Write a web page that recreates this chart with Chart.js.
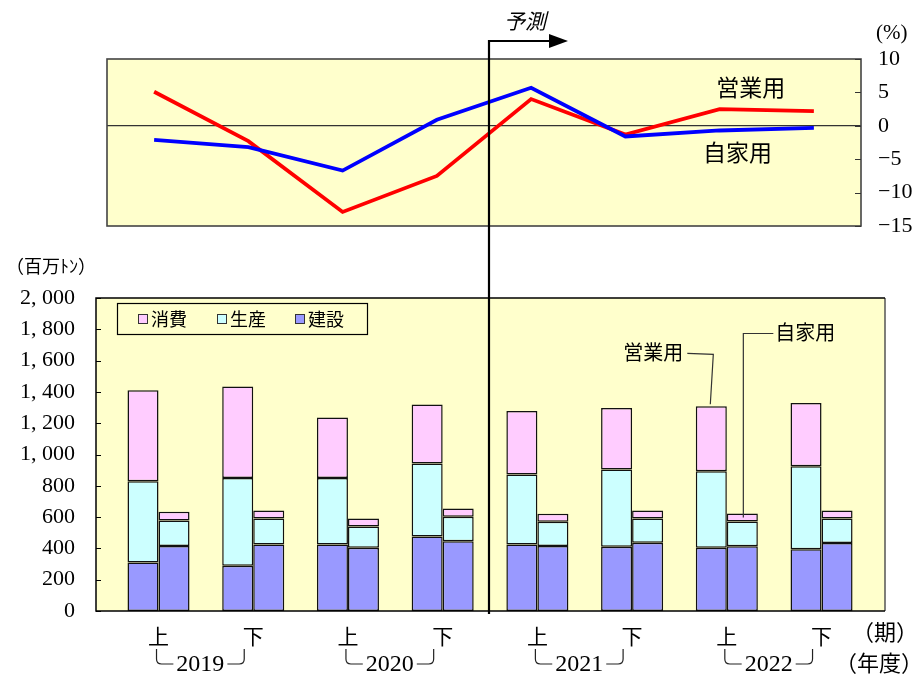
<!DOCTYPE html>
<html>
<head>
<meta charset="utf-8">
<script src="https://cdn.jsdelivr.net/npm/chart.js@4/dist/chart.umd.min.js"></script>
<style>
  html, body { margin: 0; padding: 0; background: #ffffff; }
  #wrap { position: relative; width: 917px; height: 678px; overflow: hidden; }
  #wrap canvas { position: absolute; left: 0; top: 0; }
  #rate { z-index: 1; }
  #vol { z-index: 2; }
</style>
</head>
<body>
<div id="wrap">
  <canvas id="rate" width="917" height="678"></canvas>
  <canvas id="vol" width="917" height="678"></canvas>
</div>
<script>
// 期 (上期・下期) と年度
const periods = ['上', '下', '上', '下', '上', '下', '上', '下'];
const fiscalYears = ['2019', '2020', '2021', '2022'];

// 前年同期比 (%)
const commercialRate = [5.1, -2.3, -12.9, -7.5, 4.0, -1.3, 2.5, 2.2];
const privateRate    = [-2.1, -3.2, -6.7, 0.9, 5.7, -1.6, -0.7, -0.3];

// 輸送量 (百万トン) 営業用
const bizConstruction = [310, 289, 425, 476, 425, 410, 404, 394];
const bizProduction   = [519, 561, 425, 466, 447, 494, 489, 531];
const bizConsumption  = [581, 585, 386, 377, 406, 393, 415, 404];
// 輸送量 (百万トン) 自家用
const ownConstruction = [415, 425, 404, 445, 415, 436, 413, 434];
const ownProduction   = [164, 166, 136, 157, 155, 155, 159, 157];
const ownConsumption  = [55, 51, 51, 53, 51, 51, 51, 51];

// 目盛
const rateTicks = [-15, -10, -5, 0, 5, 10];
const volumeTicks = [0, 200, 400, 600, 800, 1000, 1200, 1400, 1600, 1800, 2000];

// 予測の開始位置 (2020年度下期と2021年度上期の間)
const forecastFrom = 3.5;
// 引出線を付ける期 (2022年度上期)
const calloutIndex = 6;

const SERIF = "'Liberation Serif', 'DejaVu Serif', serif";
const GOTHIC = "'Noto Sans CJK JP', 'Noto Sans', sans-serif";
const PANEL = '#FFFFCC';
const COLORS = { construction: '#9999FF', production: '#CCFFFF', consumption: '#FFCCFF' };

Chart.defaults.font.family = SERIF;
Chart.defaults.color = '#000';

const minus = v => (v < 0 ? '\u2212' + Math.abs(v) : String(v));
const withComma = v => v >= 1000 ? Math.floor(v / 1000) + ', ' + String(v % 1000).padStart(3, '0') : String(v);
const points = arr => arr.map((y, x) => ({ x, y }));

/* ---------- 上段: 前年同期比の折れ線 ---------- */
const ratePanel = {
  id: 'ratePanel',
  beforeDraw(chart) {
    const { ctx, chartArea: a } = chart;
    ctx.save();
    ctx.fillStyle = PANEL;
    ctx.fillRect(a.left, a.top, a.right - a.left, a.bottom - a.top);
    ctx.restore();
  },
  afterDatasetsDraw(chart) {
    const { ctx, chartArea: a, scales: { x, y } } = chart;
    ctx.save();
    // 枠
    ctx.strokeStyle = '#444';
    ctx.lineWidth = 1.6;
    ctx.strokeRect(a.left, a.top, a.right - a.left, a.bottom - a.top);
    // 右軸の内向き目盛
    ctx.lineWidth = 1;
    ctx.strokeStyle = '#333';
    rateTicks.forEach(v => {
      const py = Math.round(y.getPixelForValue(v)) + 0.5;
      ctx.beginPath();
      ctx.moveTo(a.right - 6, py);
      ctx.lineTo(a.right, py);
      ctx.stroke();
    });
    // 系列名
    ctx.fillStyle = '#000';
    ctx.font = '23px ' + GOTHIC;
    ctx.textAlign = 'center';
    ctx.textBaseline = 'middle';
    ctx.fillText('営業用', x.getPixelForValue(6.33), y.getPixelForValue(5.8));
    ctx.fillText('自家用', x.getPixelForValue(6.19), y.getPixelForValue(-3.9));
    // 単位
    ctx.font = '21px ' + SERIF;
    ctx.textAlign = 'left';
    ctx.fillText('(%)', a.right + 15, 33);
    ctx.restore();
  }
};

new Chart(document.getElementById('rate'), {
  type: 'line',
  data: {
    labels: periods,
    datasets: [
      { label: '自家用', data: privateRate, borderColor: '#0000FF', borderWidth: 3.8, pointRadius: 0, tension: 0, fill: false },
      { label: '営業用', data: commercialRate, borderColor: '#FF0000', borderWidth: 3.8, pointRadius: 0, tension: 0, fill: false }
    ]
  },
  options: {
    responsive: false,
    animation: false,
    devicePixelRatio: 1,
    layout: { padding: { left: 107, top: 59, right: 0, bottom: 452 } },
    plugins: { legend: { display: false }, tooltip: { enabled: false } },
    scales: {
      x: { type: 'category', offset: true, display: false },
      y: {
        position: 'right',
        min: -15,
        max: 10,
        afterBuildTicks: s => { s.ticks = rateTicks.map(value => ({ value })); },
        afterFit: s => { s.width = 56; },
        border: { display: false },
        grid: {
          drawTicks: false,
          lineWidth: 1.2,
          color: c => (c.tick && c.tick.value === 0 ? '#333' : 'rgba(0,0,0,0)')
        },
        ticks: {
          padding: 17,
          color: '#000',
          font: { family: SERIF, size: 22 },
          callback: v => minus(v)
        }
      }
    }
  },
  plugins: [ratePanel]
});

/* ---------- 下段: 輸送量の積み上げ棒 ---------- */
const barBase = {
  borderColor: '#111',
  borderWidth: 1.5,
  borderSkipped: false,
  categoryPercentage: 0.655,
  barPercentage: 1.0
};

const volPanel = {
  id: 'volPanel',
  beforeDraw(chart) {
    const { ctx, chartArea: a } = chart;
    ctx.save();
    ctx.fillStyle = PANEL;
    ctx.fillRect(a.left, a.top, a.right - a.left, a.bottom - a.top);
    ctx.restore();
  },
  afterDatasetsDraw(chart) {
    const { ctx, chartArea: a, scales: { y } } = chart;
    ctx.save();
    // 枠
    ctx.lineWidth = 1.5;
    ctx.strokeStyle = '#555';
    ctx.beginPath();
    ctx.moveTo(a.right, a.top);
    ctx.lineTo(a.right, a.bottom);
    ctx.stroke();
    ctx.strokeStyle = '#000';
    ctx.beginPath();
    ctx.moveTo(a.right, a.top);
    ctx.lineTo(a.left, a.top);
    ctx.lineTo(a.left, a.bottom);
    ctx.lineTo(a.right, a.bottom);
    ctx.stroke();
    // 左軸の内向き目盛
    ctx.lineWidth = 1;
    volumeTicks.forEach(v => {
      const py = Math.round(y.getPixelForValue(v)) + 0.5;
      ctx.beginPath();
      ctx.moveTo(a.left, py);
      ctx.lineTo(a.left + 5, py);
      ctx.stroke();
    });
    ctx.restore();
  },
  afterDraw(chart) {
    const { ctx, chartArea: a, scales: { x } } = chart;
    ctx.save();
    ctx.fillStyle = '#000';
    ctx.strokeStyle = '#000';

    // 凡例
    const legendItems = chart.data.datasets.filter(d => d.stack === '営業用').slice().reverse();
    const lx = a.left + 21, ly = a.top + 5, lw = 250, lh = 31;
    ctx.lineWidth = 1.2;
    ctx.strokeRect(lx + 0.5, ly + 0.5, lw, lh);
    ctx.font = '18px ' + GOTHIC;
    ctx.textBaseline = 'middle';
    ctx.textAlign = 'left';
    const offsets = [21, 100, 178];
    legendItems.forEach((d, i) => {
      const bx = lx + offsets[i];
      ctx.fillStyle = d.backgroundColor;
      ctx.fillRect(bx, ly + 11, 10, 10);
      ctx.strokeStyle = '#333';
      ctx.lineWidth = 1;
      ctx.strokeRect(bx + 0.5, ly + 11.5, 9, 9);
      ctx.fillStyle = '#000';
      ctx.fillText(d.label, bx + 13, ly + 16);
    });

    // 引出線 (営業用・自家用)
    const biz = chart.getDatasetMeta(2).data[calloutIndex];
    const own = chart.getDatasetMeta(5).data[calloutIndex];
    ctx.strokeStyle = '#333';
    ctx.lineWidth = 1.2;
    ctx.beginPath();
    ctx.moveTo(biz.x - 24, biz.y - 53);
    ctx.lineTo(biz.x + 2, biz.y - 52);
    ctx.lineTo(biz.x - 1, biz.y - 2);
    ctx.stroke();
    const ownMid = (own.y + own.base) / 2;
    ctx.beginPath();
    ctx.moveTo(own.x + 31, own.y - 180);
    ctx.lineTo(own.x + 1, own.y - 180);
    ctx.lineTo(own.x + 1, ownMid);
    ctx.stroke();
    ctx.fillStyle = '#000';
    ctx.font = '20px ' + GOTHIC;
    ctx.textAlign = 'right';
    ctx.fillText('営業用', biz.x - 28, biz.y - 54);
    ctx.textAlign = 'left';
    ctx.fillText('自家用', own.x + 33, own.y - 181);

    // 年度の括弧書き
    ctx.font = '24px ' + SERIF;
    ctx.textAlign = 'center';
    ctx.textBaseline = 'middle';
    ctx.lineWidth = 1.2;
    ctx.strokeStyle = '#222';
    const yy = 664;
    fiscalYears.forEach((label, k) => {
      const L = x.getPixelForValue(2 * k) - 2;
      const R = x.getPixelForValue(2 * k + 1) - 9;
      const cx = (L + R) / 2;
      const w = ctx.measureText(label).width;
      ctx.fillText(label, cx, yy + 1);
      ctx.beginPath();
      ctx.moveTo(L, yy - 15);
      ctx.lineTo(L, yy - 5);
      ctx.quadraticCurveTo(L, yy, L + 5, yy);
      ctx.lineTo(cx - w / 2 - 3, yy);
      ctx.stroke();
      ctx.beginPath();
      ctx.moveTo(cx + w / 2 + 3, yy);
      ctx.lineTo(R - 5, yy);
      ctx.quadraticCurveTo(R, yy, R, yy - 5);
      ctx.lineTo(R, yy - 15);
      ctx.stroke();
    });

    // 軸の単位
    ctx.font = '22px ' + GOTHIC;
    ctx.textAlign = 'center';
    ctx.fillText('（期）', 885, 632);
    ctx.fillText('（年度）', 879, 663);
    ctx.font = '18px ' + GOTHIC;
    ctx.fillText('（百万ﾄﾝ）', 51, 266);

    // 予測の区切り線と矢印
    const fx = Math.round(x.getPixelForValue(forecastFrom)) - 1;
    const top = 41;
    ctx.strokeStyle = '#000';
    ctx.lineWidth = 2.2;
    ctx.beginPath();
    ctx.moveTo(fx, a.bottom + 3);
    ctx.lineTo(fx, top);
    ctx.lineTo(fx + 62, top);
    ctx.stroke();
    ctx.beginPath();
    ctx.moveTo(fx + 79, top);
    ctx.lineTo(fx + 60, top - 7);
    ctx.lineTo(fx + 60, top + 7);
    ctx.closePath();
    ctx.fillStyle = '#000';
    ctx.fill();
    ctx.font = 'italic 21px ' + GOTHIC;
    ctx.textAlign = 'center';
    ctx.fillText('予測', fx + 36, 21);
    ctx.restore();
  }
};

new Chart(document.getElementById('vol'), {
  type: 'bar',
  data: {
    datasets: [
      { ...barBase, label: '建設', stack: '営業用', data: points(bizConstruction), backgroundColor: COLORS.construction },
      { ...barBase, label: '生産', stack: '営業用', data: points(bizProduction), backgroundColor: COLORS.production },
      { ...barBase, label: '消費', stack: '営業用', data: points(bizConsumption), backgroundColor: COLORS.consumption },
      { ...barBase, label: '建設', stack: '自家用', data: points(ownConstruction), backgroundColor: COLORS.construction },
      { ...barBase, label: '生産', stack: '自家用', data: points(ownProduction), backgroundColor: COLORS.production },
      { ...barBase, label: '消費', stack: '自家用', data: points(ownConsumption), backgroundColor: COLORS.consumption }
    ]
  },
  options: {
    responsive: false,
    animation: false,
    devicePixelRatio: 1,
    layout: { padding: { left: 0, top: 298, right: 32, bottom: 0 } },
    plugins: { legend: { display: false }, tooltip: { enabled: false } },
    scales: {
      x: {
        type: 'linear',
        offset: false,
        min: -0.66,
        max: 7.67,
        afterBuildTicks: s => { s.ticks = periods.map((_, i) => ({ value: i })); },
        afterFit: s => { s.height = 67; },
        border: { display: false },
        grid: { display: false, drawTicks: false, offset: false },
        ticks: {
          autoSkip: false,
          maxRotation: 0,
          padding: 12,
          color: '#000',
          font: { family: GOTHIC, size: 21 },
          callback: v => periods[v]
        }
      },
      y: {
        stacked: true,
        min: 0,
        max: 2000,
        afterBuildTicks: s => { s.ticks = volumeTicks.map(value => ({ value })); },
        afterFit: s => { s.width = 96; },
        border: { display: false },
        grid: { display: false, drawTicks: false },
        ticks: {
          padding: 21,
          color: '#000',
          font: { family: SERIF, size: 22 },
          callback: v => withComma(v)
        }
      }
    }
  },
  plugins: [volPanel]
});
</script>
</body>
</html>
